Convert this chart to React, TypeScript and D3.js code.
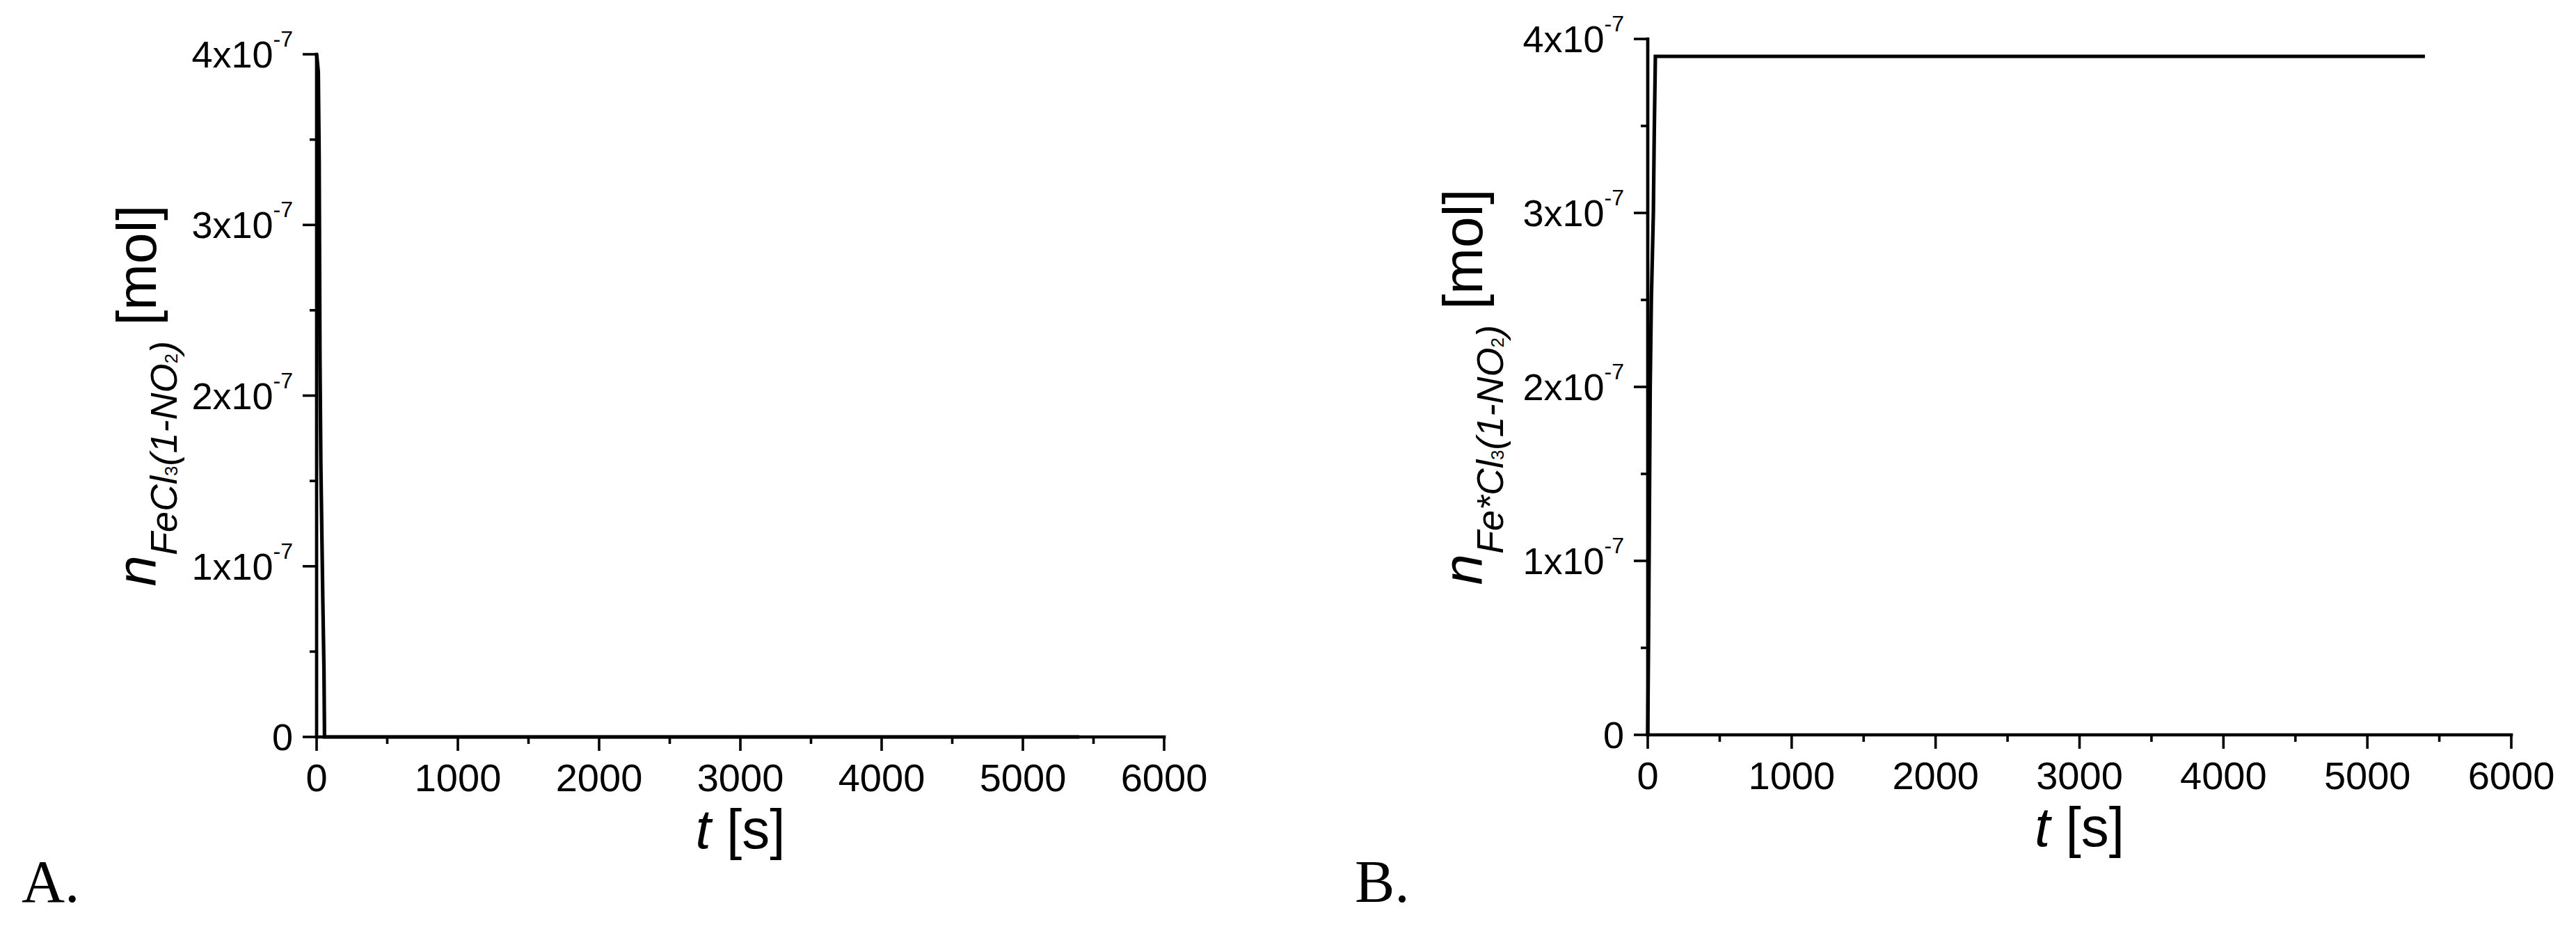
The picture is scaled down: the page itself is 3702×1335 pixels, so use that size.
import React from "react";
import * as d3 from "d3";

// ---- data ----
const timeA = [0, 12, 18, 24, 30, 44, 52, 56, 5400];
const valueA = [4.0e-7, 3.9e-7, 3.4e-7, 2.2e-7, 1.6e-7, 0.8e-7, 0.4e-7, 0, 0];

const timeB = [0, 5, 10, 17, 25, 39, 45, 53, 5400];
const valueB = [0, 0.5e-7, 1.1e-7, 2.0e-7, 2.5e-7, 3.0e-7, 3.45e-7, 3.9e-7, 3.9e-7];

const xDomain = [0, 6000];
const yDomain = [0, 4e-7];
const xTickLabels = ["0", "1000", "2000", "3000", "4000", "5000", "6000"];
const yTickMantissas = ["0", "1x10", "2x10", "3x10", "4x10"];
const yTickExponent = "-7";
const panelLetters = ["A.", "B."];
const subscriptA = ["FeCl", "3", "(1-NO", "2", ")"];
const subscriptB = ["Fe*Cl", "3", "(1-NO", "2", ")"];

const SANS = "'Liberation Sans', Arial, sans-serif";
const SERIF = "'Liberation Serif', 'Times New Roman', serif";

type PanelProps = {
  x0: number; x1: number; y0: number; yTop: number;
  times: number[]; values: number[];
  sub: string[];
  yLabelX: number;
  letter: string; letterX: number;
};

function Panel(p: PanelProps) {
  const x = d3.scaleLinear().domain(xDomain).range([p.x0, p.x1]);
  const y = d3.scaleLinear().domain(yDomain).range([p.y0, p.yTop]);
  const xMajor = x.ticks(6);
  const xMinor = x.ticks(12).filter((t) => !xMajor.includes(t));
  const yMajor = y.ticks(4);
  const yMinor = y.ticks(8).filter((t) => !yMajor.some((m) => Math.abs(m - t) < 1e-12));
  const pts = p.times.map((t, i) => [t, p.values[i]] as [number, number]);
  const line = d3.line<[number, number]>().x((d) => x(d[0])).y((d) => y(d[1]));
  const axisW = 4.7;
  const tickW = 3.6;
  const midY = (p.y0 + p.yTop) / 2;
  const midX = (p.x0 + p.x1) / 2;
  return (
    <g>
      {/* data */}
      <path d={line(pts) || ""} fill="none" stroke="#000" strokeWidth={5.2} strokeLinejoin="miter" />
      {/* axes */}
      <line x1={p.x0} x2={p.x0} y1={p.yTop - axisW / 2} y2={p.y0 + axisW / 2} stroke="#000" strokeWidth={axisW} />
      <line x1={p.x0 - axisW / 2} x2={p.x1 + axisW / 2} y1={p.y0} y2={p.y0} stroke="#000" strokeWidth={axisW} />
      {xMajor.map((t) => (
        <line key={"xM" + t} x1={x(t)} x2={x(t)} y1={p.y0} y2={p.y0 + 20} stroke="#000" strokeWidth={tickW} />
      ))}
      {xMinor.map((t) => (
        <line key={"xm" + t} x1={x(t)} x2={x(t)} y1={p.y0} y2={p.y0 + 10} stroke="#000" strokeWidth={tickW} />
      ))}
      {yMajor.map((t) => (
        <line key={"yM" + t} x1={p.x0 - 20} x2={p.x0} y1={y(t)} y2={y(t)} stroke="#000" strokeWidth={tickW} />
      ))}
      {yMinor.map((t) => (
        <line key={"ym" + t} x1={p.x0 - 10} x2={p.x0} y1={y(t)} y2={y(t)} stroke="#000" strokeWidth={tickW} />
      ))}
      {/* x tick labels */}
      {xMajor.map((t, i) => (
        <text key={"xl" + t} x={x(t)} y={p.y0 + 78} fontFamily={SANS} fontSize={56} textAnchor="middle">
          {xTickLabels[i]}
        </text>
      ))}
      {/* y tick labels */}
      {yMajor.map((t, i) => (
        <text key={"yl" + t} x={p.x0 - 34} y={y(t) + 19} fontFamily={SANS} fontSize={54} textAnchor="end">
          {i === 0 ? (
            yTickMantissas[i]
          ) : (
            <>
              <tspan>{yTickMantissas[i]}</tspan>
              <tspan fontSize={32} dy={-30}>{yTickExponent}</tspan>
            </>
          )}
        </text>
      ))}
      {/* x axis title */}
      <text x={midX} y={p.y0 + 160} fontFamily={SANS} fontSize={80} textAnchor="middle">
        <tspan fontStyle="italic">t</tspan>
        <tspan> [s]</tspan>
      </text>
      {/* y axis title */}
      <text
        transform={`translate(${p.yLabelX},${midY}) rotate(-90)`}
        fontFamily={SANS}
        fontSize={80}
        textAnchor="middle"
      >
        <tspan fontStyle="italic">n</tspan>
        <tspan fontStyle="italic" fontSize={54} dy={30}>{p.sub[0]}</tspan>
        <tspan fontSize={26} dy={1}>{p.sub[1]}</tspan>
        <tspan fontStyle="italic" fontSize={54} dy={-1}>{p.sub[2]}</tspan>
        <tspan fontSize={26} dy={1}>{p.sub[3]}</tspan>
        <tspan fontStyle="italic" fontSize={54} dy={-1}>{p.sub[4]}</tspan>
        <tspan dy={-30}>{" [mol]"}</tspan>
      </text>
      {/* panel letter */}
      <text x={p.letterX} y={1296} fontFamily={SERIF} fontSize={86}>
        {p.letter}
      </text>
    </g>
  );
}

export default function App() {
  return (
    <svg
      width={3702}
      height={1335}
      style={{ position: "absolute", left: 0, top: 0, background: "#fff" }}
    >
      <rect x={0} y={0} width={3702} height={1335} fill="#fff" />
      <Panel x0={455} x1={1673} y0={1059} yTop={78} times={timeA} values={valueA} sub={subscriptA}
        yLabelX={224} letter={panelLetters[0]} letterX={31} />
      <Panel x0={2368} x1={3609} y0={1056} yTop={56} times={timeB} values={valueB} sub={subscriptB}
        yLabelX={2130} letter={panelLetters[1]} letterX={1947} />
    </svg>
  );
}
